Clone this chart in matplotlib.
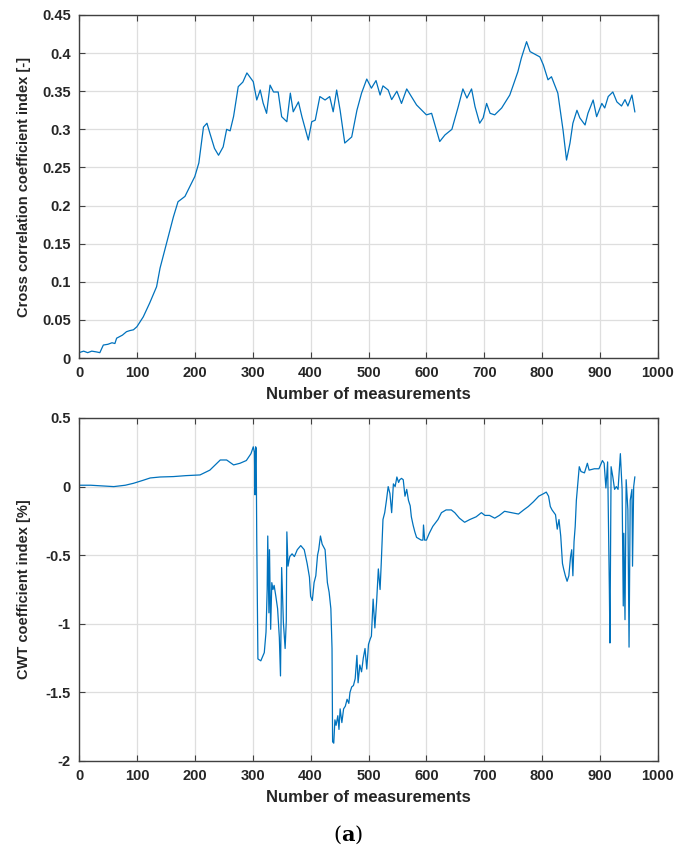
import numpy as np
import matplotlib
matplotlib.use('Agg')
import matplotlib.pyplot as plt

# DATOS
# indice de correlacion cruzada
xc = [0, 8, 15, 22, 30, 36, 42, 50, 57, 62, 65, 75, 82, 88, 94, 100, 111, 122, 134,
      140, 151, 163, 171, 183, 197, 200, 207, 215, 221, 226, 234, 241, 249, 255,
      261, 267, 275, 283, 290, 301, 307, 313, 318, 324, 330, 336, 344, 350, 359,
      365, 370, 379, 385, 396, 402, 408, 416, 425, 433, 439, 445, 451, 459, 471,
      480, 488, 497, 505, 513, 520, 525, 534, 540, 549, 557, 566, 583, 600, 609,
      623, 632, 644, 655, 663, 670, 678, 684, 692, 698, 704, 710, 718, 730, 744,
      750, 758, 764, 773, 779, 796, 802, 810, 816, 827, 836, 842, 848, 853, 860,
      865, 874, 879, 888, 894, 903, 908, 914, 922, 929, 937, 943, 948, 955, 960]
yc = [0.007, 0.009, 0.007, 0.009, 0.008, 0.007, 0.017, 0.018, 0.02, 0.019, 0.026,
      0.03, 0.0345, 0.036, 0.037, 0.041, 0.054, 0.072, 0.0935, 0.118, 0.15, 0.185,
      0.205, 0.212, 0.2335, 0.238, 0.256, 0.303, 0.308, 0.295, 0.275, 0.266, 0.277,
      0.300, 0.298, 0.317, 0.356, 0.362, 0.374, 0.3625, 0.3385, 0.3516, 0.3345,
      0.321, 0.358, 0.349, 0.349, 0.3166, 0.31, 0.3475, 0.323, 0.336, 0.3166, 0.286,
      0.31, 0.312, 0.343, 0.3385, 0.343, 0.323, 0.3516, 0.325, 0.282, 0.29, 0.325,
      0.3475, 0.366, 0.354, 0.364, 0.345, 0.357, 0.3516, 0.339, 0.35, 0.334, 0.353,
      0.332, 0.319, 0.321, 0.284, 0.2926, 0.300, 0.3297, 0.353, 0.341, 0.353,
      0.3297, 0.308, 0.315, 0.334, 0.321, 0.319, 0.328, 0.345, 0.358, 0.3756,
      0.3935, 0.415, 0.402, 0.395, 0.3845, 0.365, 0.369, 0.3475, 0.299, 0.2597,
      0.282, 0.308, 0.325, 0.315, 0.3057, 0.321, 0.3385, 0.3166, 0.334, 0.328,
      0.343, 0.349, 0.336, 0.3306, 0.339, 0.3306, 0.345, 0.323]

# indice de coeficiente CWT
xw = [0, 20, 40, 60, 80, 94, 110, 123, 140, 163, 185, 209, 226, 244, 255, 267,
      278, 289, 297, 301, 303, 304, 305, 306, 307, 309, 314, 320, 323, 325, 326,
      328, 329, 331, 333, 335, 337, 340, 343, 346, 348, 350, 353, 356, 358, 359,
      361, 364, 368, 372, 377, 383, 389, 394, 398, 400, 403, 406, 409, 412, 414,
      417, 420, 425, 429, 432, 435, 437, 438, 440, 442, 444, 447, 449, 451, 454,
      457, 460, 463, 466, 468, 471, 474, 477, 480, 482, 485, 488, 491, 494, 497,
      500, 503, 505, 508, 511, 514, 517, 520, 522, 525, 528, 531, 534, 537, 540,
      543, 546, 549, 552, 554, 557, 560, 563, 566, 569, 572, 574, 577, 580, 583,
      591, 594, 595, 597, 600, 605, 611, 620, 626, 634, 643, 649, 657, 666, 675,
      686, 695, 701, 709, 718, 726, 735, 747, 759, 768, 776, 785, 794, 803, 807,
      811, 814, 817, 823, 826, 829, 832, 835, 837, 840, 843, 846, 849, 851, 853,
      855, 857, 859, 862, 864, 867, 873, 878, 881, 890, 898, 904, 907, 910, 913,
      916, 917, 919, 922, 925, 928, 931, 935, 938, 940, 941, 943, 945, 948, 950,
      952, 955, 956, 958, 960]
yw = [0.01, 0.01, 0.005, 0.0, 0.01, 0.024, 0.045, 0.063, 0.07, 0.073, 0.08, 0.085,
      0.12, 0.194, 0.194, 0.158, 0.17, 0.19, 0.24, 0.29, 0.25, -0.06, 0.29, 0.28,
      -0.39, -1.256, -1.27, -1.21, -1.06, -0.75, -0.36, -0.92, -0.46, -1.04, -0.70,
      -0.75, -0.72, -0.80, -0.89, -1.1, -1.38, -0.59, -0.99, -1.18, -0.98, -0.33,
      -0.58, -0.51, -0.49, -0.51, -0.46, -0.43, -0.46, -0.56, -0.66, -0.80, -0.83,
      -0.70, -0.65, -0.5, -0.46, -0.36, -0.42, -0.46, -0.70, -0.77, -0.89, -1.18,
      -1.86, -1.87, -1.7, -1.74, -1.67, -1.77, -1.62, -1.72, -1.62, -1.6, -1.55,
      -1.58, -1.50, -1.46, -1.45, -1.4, -1.23, -1.43, -1.3, -1.35, -1.25, -1.18,
      -1.33, -1.15, -1.11, -1.09, -0.82, -1.03, -0.84, -0.60, -0.75, -0.56, -0.24,
      -0.19, -0.10, 0.0, -0.05, -0.19, 0.02, 0.0, 0.07, 0.03, 0.05, 0.06, 0.05,
      -0.07, -0.02, -0.1, -0.14, -0.22, -0.28, -0.33, -0.37, -0.39, -0.39, -0.28,
      -0.39, -0.39, -0.34, -0.29, -0.24, -0.19, -0.17, -0.17, -0.19, -0.23, -0.26,
      -0.24, -0.22, -0.19, -0.21, -0.21, -0.23, -0.21, -0.18, -0.19, -0.20, -0.17,
      -0.145, -0.11, -0.07, -0.05, -0.04, -0.07, -0.145, -0.17, -0.205, -0.31,
      -0.24, -0.36, -0.56, -0.60, -0.65, -0.69, -0.65, -0.51, -0.46, -0.65, -0.4,
      -0.29, -0.10, 0.05, 0.145, 0.11, 0.10, 0.17, 0.12, 0.13, 0.13, 0.19, 0.17,
      -0.01, 0.18, -0.75, -1.14, 0.145, 0.07, -0.02, 0.0, -0.02, 0.24, -0.02, -0.87,
      -0.34, -0.97, 0.05, -0.17, -1.17, -0.10, -0.02, -0.58, 0.0, 0.07]

xticks = np.arange(0, 1001, 100)
yticks_c = [0, 0.05, 0.1, 0.15, 0.2, 0.25, 0.3, 0.35, 0.4, 0.45]
yticks_w = [-2, -1.5, -1, -0.5, 0, 0.5]

# ESTILO
plt.rcParams['font.family'] = ['Liberation Sans', 'DejaVu Sans']
plt.rcParams['font.weight'] = 'bold'
oscuro = '#262626'
azul = '#0072BD'

fig = plt.figure(figsize=(6.79, 8.5), dpi=100)
ax1 = fig.add_axes([79/679, 1 - 358/850, 579/679, 343/850])
ax2 = fig.add_axes([79/679, 1 - 761/850, 579/679, 343/850])


def estilo(ax, yticks, ylabel):
    ax.set_xlim(0, 1000)
    ax.set_xticks(xticks)
    ax.set_yticks(yticks)
    ax.set_ylim(yticks[0], yticks[-1])
    ax.set_yticklabels([('%g' % v) for v in yticks])
    ax.grid(True, color='#dedede', linewidth=0.9)
    ax.set_axisbelow(True)
    ax.tick_params(direction='in', top=True, right=True, length=4,
                   width=0.8, colors='#404040', labelcolor=oscuro, labelsize=10.5)
    ax.tick_params(axis='x', pad=6)
    ax.tick_params(axis='y', pad=6)
    for s in ax.spines.values():
        s.set_color('#404040')
        s.set_linewidth(1.0)
    ax.set_xlabel('Number of measurements', fontsize=12, fontweight='bold',
                  color=oscuro, labelpad=5)
    ax.set_ylabel(ylabel, fontsize=10.5, fontweight='bold', color=oscuro)
    ax.yaxis.set_label_coords(-48/579, 0.5)


ax1.plot(xc, yc, color=azul, linewidth=0.9)
estilo(ax1, yticks_c, 'Cross correlation coefficient index [-]')

ax2.plot(xw, yw, color=azul, linewidth=0.9)
estilo(ax2, yticks_w, 'CWT coefficient index [%]')

plt.rcParams['mathtext.fontset'] = 'dejavuserif'
fig.text(348/679, 1 - 835/850, r'(${\bf a}$)', ha='center', va='center',
         fontsize=15, family='DejaVu Serif', fontweight='normal', color='black')

plt.savefig('out.png', dpi=100)
